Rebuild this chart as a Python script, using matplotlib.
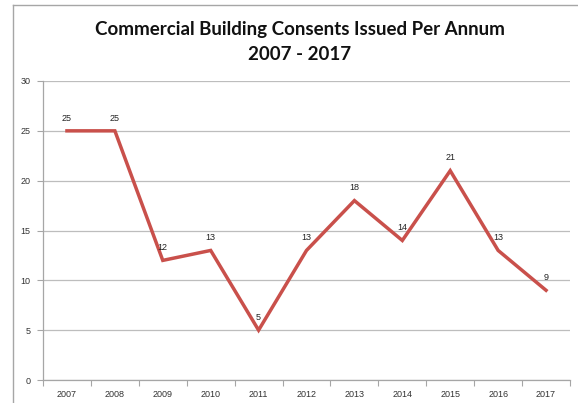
import matplotlib
matplotlib.use("Agg")
import matplotlib.pyplot as plt
from matplotlib.lines import Line2D

years = ["2007", "2008", "2009", "2010", "2011", "2012", "2013", "2014", "2015", "2016", "2017"]
consents = [25, 25, 12, 13, 5, 13, 18, 14, 21, 13, 9]
y_ticks = [0, 5, 10, 15, 20, 25, 30]

W, H = 578, 403
fig = plt.figure(figsize=(W / 100, H / 100), dpi=100)
fig.patch.set_facecolor("white")

# outer chart frame (left and top edges)
frame_c = "#a6a6a6"
fig.add_artist(Line2D([13 / W, 13 / W], [0, 1 - 5 / H], transform=fig.transFigure,
                      color=frame_c, lw=1.0))
fig.add_artist(Line2D([13 / W, 1], [1 - 5 / H, 1 - 5 / H], transform=fig.transFigure,
                      color=frame_c, lw=1.0))

left, right = 43 / W, 570 / W
bottom, top = 1 - 380 / H, 1 - 81 / H
ax = fig.add_axes([left, bottom, right - left, top - bottom])

x = list(range(len(years)))
ax.plot(x, consents, color="#c9504b", lw=2.5, solid_joinstyle="miter", zorder=3)
for xi, v in zip(x, consents):
    ax.annotate(str(v), (xi, v), xytext=(0, 6), textcoords="offset points",
                ha="center", va="bottom", fontsize=6.5, color="#222222",
                family="Liberation Sans")

ax.set_xlim(-0.5, len(years) - 0.5)
ax.set_ylim(0, 30)
ax.set_yticks(y_ticks)
ax.set_yticklabels([str(t) for t in y_ticks])
ax.yaxis.grid(True, color="#bdbdbd", lw=0.9)
ax.set_axisbelow(True)

ax.set_xticks(x)
ax.set_xticklabels(years)
ax.set_xticks([i - 0.5 for i in range(len(years) + 1)], minor=True)
ax.tick_params(axis="x", which="major", length=0, pad=7)
ax.tick_params(axis="x", which="minor", length=4, color="#a6a6a6", width=0.8)
ax.tick_params(axis="y", length=4, color="#a6a6a6", width=0.8, pad=5)
for lab in ax.get_xticklabels() + ax.get_yticklabels():
    lab.set_fontsize(6.5)
    lab.set_color("#333333")
    lab.set_family("Liberation Sans")

for s in ("top", "right"):
    ax.spines[s].set_visible(False)
for s in ("left", "bottom"):
    ax.spines[s].set_color("#a6a6a6")
    ax.spines[s].set_linewidth(0.9)

fig.text(300 / W, 1 - 30 / H, "Commercial Building Consents Issued Per Annum",
         ha="center", va="center", fontsize=13.5, fontweight="bold",
         family="Lato", color="#111111")
fig.text(300 / W, 1 - 55 / H, "2007 - 2017",
         ha="center", va="center", fontsize=13.5, fontweight="bold",
         family="Lato", color="#111111")

fig.savefig("out.png", dpi=100, facecolor="white")
